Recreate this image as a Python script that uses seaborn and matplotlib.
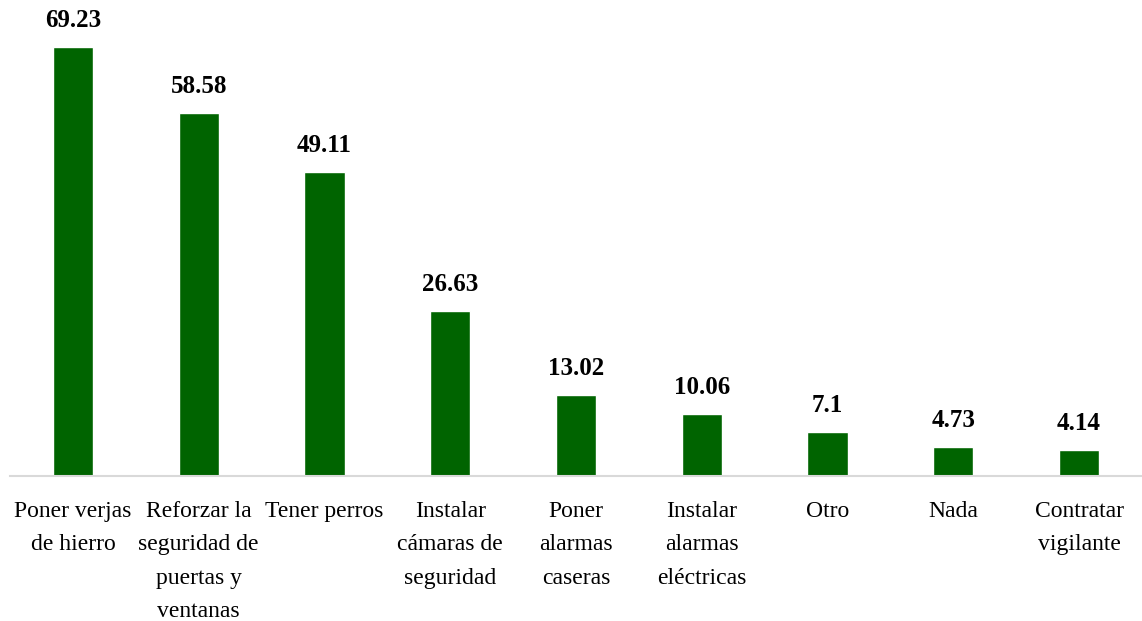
import pandas as pd
import matplotlib.pyplot as plt
import seaborn as sns

# Datos
categorias = ['Poner verjas\nde hierro', 'Reforzar la\nseguridad de\npuertas y\nventanas',
              'Tener perros', 'Instalar\ncámaras de\nseguridad', 'Poner\nalarmas\ncaseras',
              'Instalar\nalarmas\neléctricas', 'Otro', 'Nada', 'Contratar\nvigilante']
valores = [69.23, 58.58, 49.11, 26.63, 13.02, 10.06, 7.1, 4.73, 4.14]
etiquetas = ['69.23', '58.58', '49.11', '26.63', '13.02', '10.06', '7.1', '4.73', '4.14']

df = pd.DataFrame({'cat': categorias, 'val': valores})

sns.set_style('white')
plt.rcParams['font.family'] = ['Liberation Serif', 'DejaVu Serif']

fig = plt.figure(figsize=(11.42, 6.21), dpi=100)
ax = fig.add_axes([10 / 1142, 145 / 621, 1 - 10 / 1142, 1 - 145 / 621])

sns.barplot(data=df, x='cat', y='val', color='#006400', width=0.32,
            saturation=1, ax=ax)

ax.set_ylim(0, 76.8)
ax.set_xlim(-0.5, len(categorias) - 0.5)

for i, (v, t) in enumerate(zip(valores, etiquetas)):
    ax.annotate(t, (i, v), xytext=(0, 19), textcoords='offset points',
                ha='center', va='center', fontsize=18, fontweight='bold',
                color='black')

ax.set_xlabel('')
ax.set_ylabel('')
ax.set_yticks([])
ax.tick_params(axis='x', length=0, pad=18, labelsize=17, labelcolor='black')
for lbl in ax.get_xticklabels():
    lbl.set_linespacing(1.78)
    lbl.set_va('top')

for s in ['top', 'right', 'left']:
    ax.spines[s].set_visible(False)
ax.spines['bottom'].set_color('#d9d9d9')
ax.spines['bottom'].set_linewidth(1.5)

fig.savefig('out.png', dpi=100)
